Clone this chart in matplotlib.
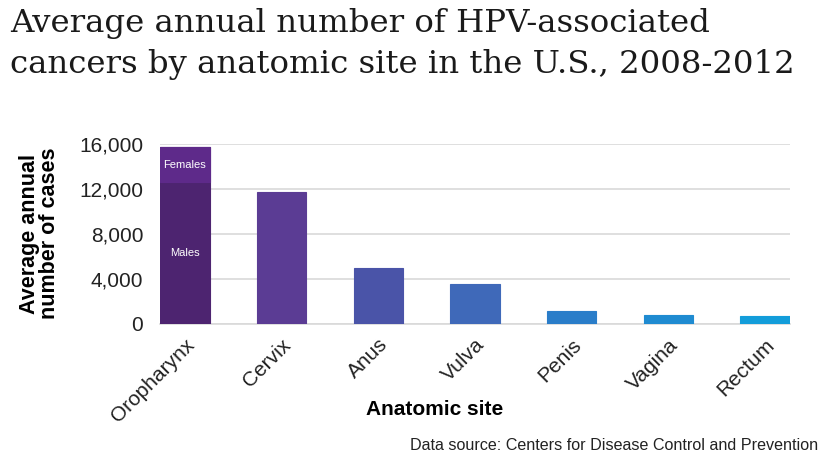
import matplotlib.pyplot as plt

sites = ["Oropharynx", "Cervix", "Anus", "Vulva", "Penis", "Vagina", "Rectum"]
cases = [15700, 11700, 5000, 3550, 1130, 770, 710]
oro_males = 12600
oro_females = 3100
colors = ["#4d2470", "#5b3c94", "#4a54a8", "#3f69b9", "#2a7dc9", "#1f8bd1", "#139dda"]
female_color = "#5e2a8a"
y_ticks = [0, 4000, 8000, 12000, 16000]

fig = plt.figure(figsize=(8.24, 4.58), dpi=100)
ax = fig.add_axes([0.194, 0.2926, 0.765, 0.393])

x = list(range(len(sites)))
bars = ax.bar(x, cases, width=0.51, color=colors, zorder=3,
              edgecolor=[c for c in colors], linewidth=0.8)
# females part of oropharynx
ax.bar(0, oro_females, bottom=oro_males, width=0.51, color=female_color,
       zorder=4, edgecolor=female_color, linewidth=0.8)
ax.text(0, oro_males + oro_females / 2, "Females", color="white",
        ha="center", va="center", fontsize=8, family="Liberation Sans", zorder=5)
ax.text(0, oro_males / 2, "Males", color="white",
        ha="center", va="center", fontsize=8, family="Liberation Sans", zorder=5)

ax.set_xlim(-0.26, 6.26)
ax.set_ylim(0, 16000)
ax.set_yticks(y_ticks)
ax.set_yticklabels([f"{v:,}" for v in y_ticks], family="Liberation Sans",
                   fontsize=15, color="#222222")
ax.set_xticks(x)
ax.set_xticklabels(sites, rotation=45, ha="right", rotation_mode="anchor",
                   family="Liberation Sans", fontsize=15, color="#222222")
ax.tick_params(axis="both", length=0)
ax.tick_params(axis="y", pad=12)
ax.tick_params(axis="x", pad=8)
ax.grid(axis="y", color="#d9d9d9", linewidth=1.2, zorder=0)
for s in ["top", "right", "left"]:
    ax.spines[s].set_visible(False)
ax.spines["bottom"].set_color("#d9d9d9")
ax.spines["bottom"].set_linewidth(1.2)

fig.text(0.048, 0.49, "Average annual\nnumber of cases", rotation=90,
         ha="center", va="center", fontsize=15.5, fontweight="bold",
         family="Liberation Sans", linespacing=0.95)
fig.text(0.528, 0.105, "Anatomic site", ha="center", va="center",
         fontsize=15, fontweight="bold", family="Liberation Sans")
fig.text(0.993, 0.028, "Data source: Centers for Disease Control and Prevention",
         ha="right", va="center", fontsize=11.6, family="Liberation Sans",
         color="#222222")
fig.text(0.012, 0.982,
         "Average annual number of HPV-associated\ncancers by anatomic site in the U.S., 2008-2012",
         ha="left", va="top", fontsize=23.3, family="DejaVu Serif",
         linespacing=1.42, color="#1a1a1a")

plt.savefig("out.png", dpi=100)
